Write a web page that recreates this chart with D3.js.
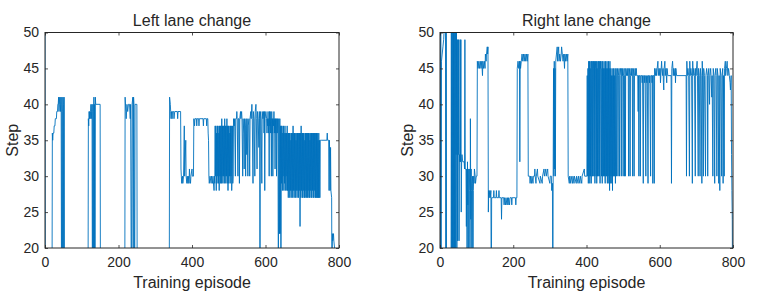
<!DOCTYPE html>
<html>
<head>
<meta charset="utf-8">
<script src="https://cdn.jsdelivr.net/npm/d3@7"></script>
<style>
  html, body { margin: 0; padding: 0; background: #ffffff; }
  svg { display: block; }
  text { font-family: "Liberation Sans", Arial, Helvetica, sans-serif; fill: #262626; }
</style>
</head>
<body>
<svg id="chart" width="764" height="300"></svg>
<script>
// ---------- data (episode, step) ----------
const titles = ["Left lane change", "Right lane change"];
const xLabel = "Training episode";
const yLabel = "Step";
const xTicks = [0, 200, 400, 600, 800];
const yTicks = [20, 25, 30, 35, 40, 45, 50];

// values below 20 are failed episodes that fall out of the axis range (drawn clipped)
const leftSteps = [
[0,50],[1,10],[19,10],[20,36],[21,35],[22,36],[24,36],[25,37],[27,37],[28,38],[31,38],[32,39],[34,39],[35,40],[36,40],[37,41],[38,39],[39,40],[40,41],[41,40],[42,39],[43,41],[44,40],[45,10],[46,41],[47,39],[48,10],[49,41],[50,40],[51,10],[52,41],[53,10],
[117,10],[118,38],[119,37],[120,39],[121,38],[122,39],[123,38],[124,39],[125,40],[126,38],[127,39],[128,40],[129,10],[130,39],[131,40],[132,10],[133,41],[134,10],[135,40],[136,10],[137,41],[138,40],[150,40],[151,10],
[217,10],[218,41],[220,39],[221,38],[223,40],[225,39],[227,40],[230,40],[232,38],[233,40],[235,10],[237,40],[239,41],[240,10],[241,41],[242,40],[244,10],[245,40],[250,40],[251,10],
[338,10],[339,41],[341,40],[342,39],[343,38],[344,39],[346,38],[347,39],[350,39],[351,38],[353,39],[360,39],[361,38],[362,39],[369,39],
[370,31],[371,30],[372,29],[374,30],[375,29],[377,30],[379,37],[380,30],[383,35],[384,30],[386,29],[387,30],[389,29],[390,30],[392,29],[393,31],[394,30],[396,29],[397,30],[400,31],[401,30],[404,30],
[405,38],[407,37],[408,38],[412,38],[413,37],[414,38],[418,38],[419,37],[420,38],[430,38],[431,37],[432,38],[439,38],[440,37],[441,38],[443,38],[444,36],[445,35],[446,30],[447,29],[449,30],[452,29],[453,30],[456,29],[457,30],[460,28],[461,30],[462,29],
[463,37],[464,30],[465,37],[466,28],[467,36],[468,29],[469,37],[470,30],[471,37],[472,29],[473,36],[474,28],[475,37],[476,30],[477,37],[478,29],[479,37],[480,29],[481,38],[482,30],[483,37],[484,29],[485,37],[486,30],[487,37],[488,29],[489,38],[490,30],[491,37],[492,29],[493,37],[494,30],[495,38],[496,29],[497,37],[498,28],[499,37],[500,29],[501,37],[502,30],[503,36],[504,29],[505,37],[506,30],[507,37],[508,28],[509,30],[510,37],[511,29],[512,30],
[513,38],[515,37],[516,38],[518,30],[519,38],[521,38],[522,39],[523,38],[525,30],[526,38],[528,38],[529,29],[530,38],[532,39],[533,38],[535,39],[536,38],[538,30],[539,38],[541,36],[542,31],[543,38],[545,37],[546,30],[547,38],[549,33],[550,38],[552,30],[553,37],[555,38],[557,30],[558,38],[560,39],[561,38],[563,40],[564,38],[566,29],[567,39],[569,38],[571,30],[572,39],[574,40],[575,38],[577,31],[578,39],[580,38],[582,34],[583,39],[584,38],[585,10],[586,39],[588,38],[590,29],[591,39],[593,38],[595,39],[596,36],[597,39],[598,28],[599,38],[601,39],[603,38],
[604,36],[605,38],[606,37],[607,39],[608,36],[609,38],[610,30],[611,39],[612,37],[613,39],[614,36],[615,38],[616,30],[617,39],[618,36],[619,38],[620,30],[621,38],[622,37],[623,39],[624,36],[625,38],[626,31],[627,38],[628,36],[629,38],[630,30],[631,38],[632,36],[633,38],[634,37],[635,10],[636,38],[637,36],[638,22],[639,38],[640,22],[641,37],[642,10],[643,37],
[644,29],[645,37],[646,28],[647,36],[648,30],[649,37],[650,28],[651,36],[652,29],[653,37],[654,28],[655,36],[656,30],[657,36],[658,28],[659,37],[660,28],
[661,36],[662,27],[663,36],[664,28],[665,36],[666,27],[667,36],[668,28],[669,35],[670,27],[671,36],[672,28],[673,36],[674,27],[675,37],[676,28],[677,36],[678,27],[679,36],[680,28],[681,36],[682,27],[683,35],[684,28],[685,36],[686,27],[687,36],[688,28],[689,36],[690,27],[691,36],[692,28],[693,36],[694,23],[695,36],[696,27],[697,37],[698,28],[699,36],[700,27],
[701,36],[702,27],[703,36],[704,28],[705,36],[706,27],[707,35],[708,27],[709,36],[710,28],[711,36],[712,27],[713,36],[714,27],[715,36],[716,28],[717,36],[718,27],[719,36],[720,27],[721,35],[722,28],[723,36],[724,27],[725,36],[726,27],[727,36],[728,28],[729,36],[730,27],[731,36],[732,27],[733,36],[734,28],[735,36],[736,27],[737,36],[738,27],[739,36],[740,27],[741,36],[742,27],[743,35],[744,27],[745,36],[746,27],[747,35],[748,27],[749,35],
[753,35],[767,35],[768,36],[769,35],[772,35],[773,28],[774,35],[776,28],[777,34],[778,28],[780,27],[781,10],[782,22],[783,21],[785,22],[786,21],[788,20],[789,10],[800,10]
];

const rightSteps = [
[0,50],[1,10],[2,50],[3,10],[4,46],[6,47],[8,48],[10,49],[11,50],[15,50],[16,10],[17,50],[18,10],[30,10],[31,50],[32,10],[33,50],[34,10],[35,50],[36,10],[37,50],[38,10],[39,50],[40,10],[41,50],[42,10],[43,50],[44,33],[45,50],[46,10],[47,49],[48,21],[49,49],[50,33],[51,49],[52,21],[53,33],[54,32],[55,49],[56,32],[57,49],[58,25],[59,32],[60,33],[62,32],[66,32],[67,31],[68,49],[69,31],[71,31],[72,23],[73,31],[74,10],[75,32],[76,26],[77,31],[78,10],[79,30],[80,31],[81,28],[82,10],[83,38],[84,24],[85,31],[86,28],[87,10],[88,29],[89,30],[90,10],[91,28],[92,30],[93,29],[94,31],[96,30],[97,29],[99,30],[101,30],
[102,46],[104,45],[106,46],[108,45],[110,46],[112,45],[114,46],[116,44],[117,46],[119,45],[121,46],[123,45],[124,47],[126,46],[127,47],[129,48],[130,47],[131,48],[132,25],[133,28],[134,27],[136,28],[137,27],[139,28],[140,10],[141,27],[146,27],[147,28],[148,27],[153,27],[154,28],[155,27],[160,27],[161,28],[162,27],[167,27],[168,24],[169,27],[174,27],[175,26],[176,27],[179,26],[180,27],[183,26],[184,27],[186,26],[187,27],[190,26],[191,27],[195,27],[196,26],[197,27],[206,27],[207,26],[208,27],[210,27],
[211,45],[213,46],[215,45],[217,46],[218,32],[219,46],[220,45],[222,46],[224,47],[226,46],[228,47],[230,46],[232,47],[234,46],[236,47],[238,46],[240,47],[241,30],
[245,30],[246,29],[247,30],[250,29],[251,30],[254,29],[255,30],[258,30],[259,31],[260,30],[262,29],[263,30],[266,31],[267,30],[273,29],[274,30],[279,29],[280,30],[284,31],[285,30],[289,31],[290,30],[294,31],[295,30],[300,29],[301,30],[304,30],[305,28],[307,29],[308,10],[309,30],[310,45],[311,30],[312,46],[313,31],[314,45],[315,30],[316,46],[318,47],[320,48],[321,46],[322,47],[324,48],[325,46],[327,47],[329,46],[331,47],[332,48],[334,47],[336,46],[338,47],[340,45],[341,47],[343,46],[345,47],[347,46],[349,47],[350,30],
[353,29],[354,30],[357,29],[358,30],[362,29],[363,30],[366,29],[367,30],[372,29],[373,30],[377,29],[378,30],[382,29],[383,30],[387,29],[388,30],[394,31],[395,30],[401,30],
[402,44],[403,30],[404,45],[405,29],[406,46],[407,30],[408,46],[409,29],[410,45],[411,30],[412,46],[413,29],[414,46],[415,45],[416,30],[417,46],[418,30],[419,46],[420,45],[421,30],[422,46],[423,29],[424,45],[425,46],[426,30],[427,46],[428,29],[429,45],[430,30],[431,46],[432,30],[433,46],[434,45],[435,30],[436,46],[437,29],[438,46],[439,45],[440,46],[441,30],[442,45],[443,29],[444,46],[445,30],[446,45],[447,30],[448,46],[449,30],[450,45],[451,29],[452,46],[453,30],[454,45],[455,30],[456,46],[457,29],[458,45],[459,30],[460,46],[461,29],[462,45],[463,28],[464,46],[465,29],[466,45],[467,30],[468,44],[469,29],[470,45],[471,28],[472,44],[473,30],[474,45],[475,30],[476,44],[477,30],[478,45],[479,29],[480,44],[481,45],[482,30],[483,44],[485,45],[486,30],[487,44],[489,45],[490,30],[491,44],[493,45],[494,44],[495,30],[496,45],[498,44],[499,45],[500,30],[501,44],[503,45],[504,30],[505,44],[506,30],[507,45],[509,44],[511,45],[512,44],[514,45],[515,30],[516,44],[518,45],[519,30],[520,44],[522,45],[523,44],[525,45],[526,30],[527,44],[529,45],[530,30],[531,44],[533,45],[534,44],[536,45],[537,44],[540,44],[541,39],[542,44],[543,30],[544,44],[546,44],[547,30],[548,44],[551,44],[552,43],[553,44],[555,29],[556,44],[558,44],[559,43],[560,44],[562,30],[563,44],[565,43],[566,44],[568,29],[569,44],[571,44],[572,43],[573,44],[575,30],[576,44],[578,44],[579,43],[580,44],[581,29],[582,44],[584,44],[585,29],[586,45],[588,44],[590,45],[591,44],[593,45],[595,46],[596,44],[598,45],[600,44],[601,45],[602,43],[603,44],[605,46],[606,45],[608,44],[609,45],[610,43],[611,42],[612,45],[614,46],[615,44],[617,45],[618,44],[619,43],[620,45],[622,44],[625,44],[628,44],[631,44],[632,29],[633,45],[635,46],[637,44],[638,45],[640,44],[642,45],[643,43],[644,45],[646,44],[672,44],
[673,30],[674,46],[675,44],[677,45],[679,44],[681,30],[682,46],[683,44],[685,45],[687,44],[689,29],[690,46],[691,44],[693,45],[695,44],[697,30],[698,45],[699,44],[702,46],[703,44],[705,30],[706,45],[708,44],[710,30],[711,45],[713,44],[715,29],[716,46],[717,44],[719,30],[720,45],[722,44],[725,30],[726,44],[728,45],[730,44],[731,30],[732,44],[734,45],[736,40],[737,44],[739,45],[740,44],[742,41],[743,44],[745,30],[746,45],[748,44],[750,29],[751,44],[753,45],[754,44],[756,30],[757,45],[759,44],[761,29],[762,44],[764,28],[765,45],[767,44],[769,30],[770,44],[772,45],[773,29],[774,44],[776,30],[777,45],[779,46],[780,44],[782,45],[784,46],[786,44],[788,45],[790,44],[792,43],[793,42],[794,43],[795,44],[796,33],[797,28],[798,24],[799,10],[800,10]
];

// ---------- drawing ----------
const svg = d3.select("#chart");
const axisColor = "#262626";
const lineColor = "#0072BD";

const panels = [
  { id: "L", x0: 45, x1: 339, y0: 32.5, y1: 248, title: titles[0], data: leftSteps },
  { id: "R", x0: 440, x1: 733, y0: 32.5, y1: 248, title: titles[1], data: rightSteps }
];

panels.forEach(p => {
  const w = p.x1 - p.x0, h = p.y1 - p.y0;
  const x = d3.scaleLinear().domain([0, 800]).range([0, w]);
  const y = d3.scaleLinear().domain([20, 50]).range([h, 0]);
  const g = svg.append("g").attr("transform", `translate(${p.x0},${p.y0})`);

  svg.append("defs").append("clipPath").attr("id", "clip" + p.id)
    .append("rect").attr("x", 0).attr("y", 0).attr("width", w).attr("height", h);

  // data line
  const line = d3.line().x(d => x(d[0])).y(d => y(d[1]));
  g.append("path")
    .datum(p.data)
    .attr("clip-path", `url(#clip${p.id})`)
    .attr("fill", "none")
    .attr("stroke", lineColor)
    .attr("stroke-width", 0.9)
    .attr("stroke-linejoin", "miter")
    .attr("d", line);

  // axes (ticks inward, MATLAB box style)
  const styleAxis = sel => {
    sel.select(".domain").remove();
    sel.selectAll(".tick line").attr("stroke", axisColor).attr("stroke-width", 0.8);
    sel.selectAll(".tick text").attr("fill", axisColor)
      .style("font-family", '"Liberation Sans", Arial, Helvetica, sans-serif')
      .style("font-size", "14px");
  };
  g.append("g").attr("transform", `translate(0,${h})`)
    .call(d3.axisBottom(x).tickValues(xTicks).tickSizeInner(-3).tickSizeOuter(0).tickPadding(9))
    .call(styleAxis);
  g.append("g")
    .call(d3.axisLeft(y).tickValues(yTicks).tickSizeInner(-3).tickSizeOuter(0).tickPadding(6))
    .call(styleAxis);
  g.append("g")
    .call(d3.axisTop(x).tickValues(xTicks).tickSizeInner(-3).tickSizeOuter(0).tickFormat(""))
    .call(styleAxis);
  g.append("g").attr("transform", `translate(${w},0)`)
    .call(d3.axisRight(y).tickValues(yTicks).tickSizeInner(-3).tickSizeOuter(0).tickFormat(""))
    .call(styleAxis);

  // box
  g.append("rect").attr("x", 0).attr("y", 0).attr("width", w).attr("height", h)
    .attr("fill", "none").attr("stroke", axisColor).attr("stroke-width", 1);

  // title
  svg.append("text")
    .attr("x", p.x0 + w / 2).attr("y", 25.5)
    .attr("text-anchor", "middle")
    .style("font-size", "16px")
    .text(p.title);

  // x label
  svg.append("text")
    .attr("x", p.x0 + w / 2).attr("y", 288)
    .attr("text-anchor", "middle")
    .style("font-size", "16px")
    .text(xLabel);

  // y label
  svg.append("text")
    .attr("transform", `translate(${p.x0 - 27.5},${p.y0 + h / 2}) rotate(-90)`)
    .attr("text-anchor", "middle")
    .style("font-size", "16px")
    .text(yLabel);
});
</script>
</body>
</html>
